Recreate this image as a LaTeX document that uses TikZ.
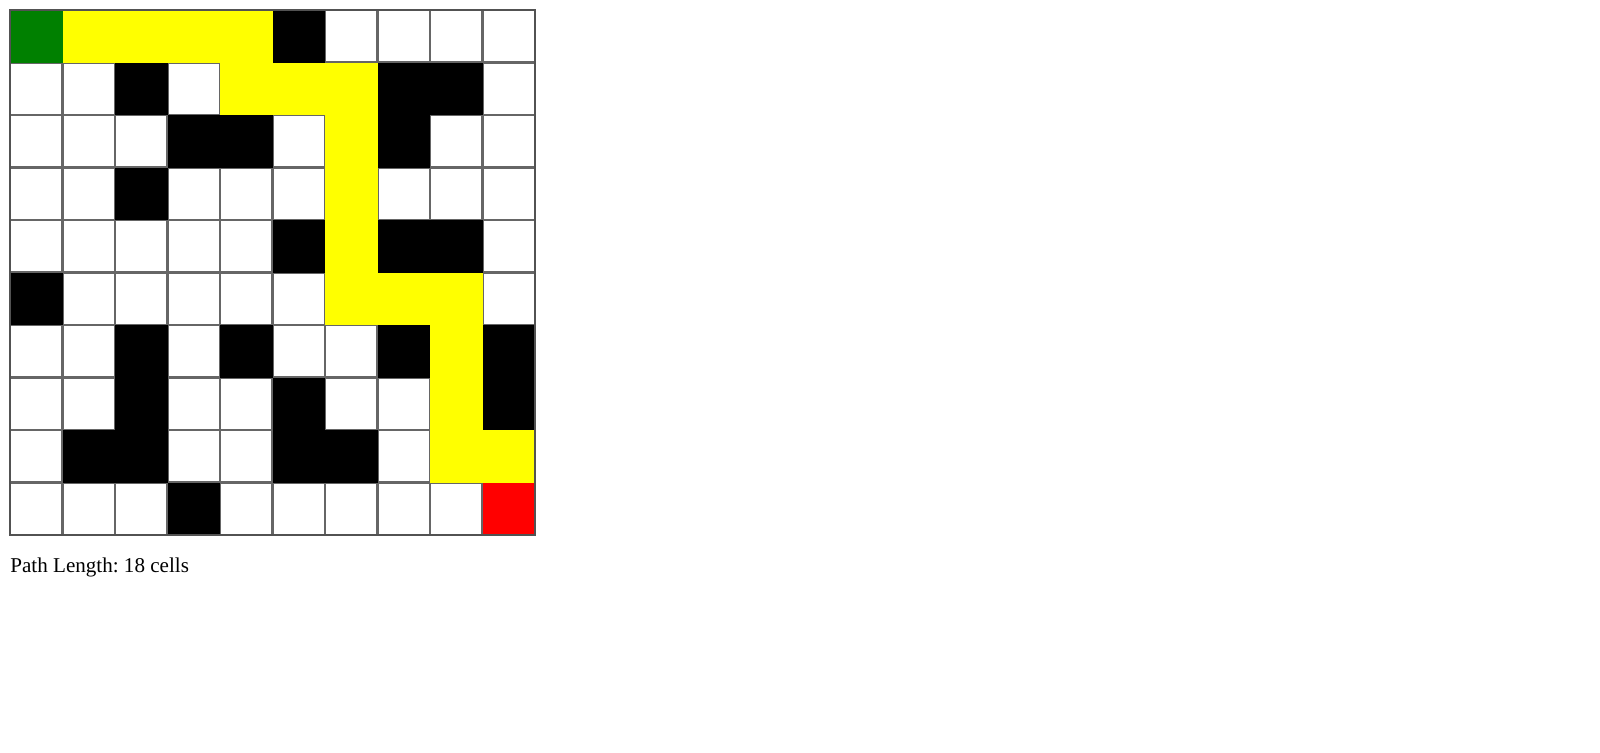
\documentclass[tikz,border=0pt]{standalone}
\usepackage{fontspec}
\setmainfont{Liberation Serif}
\definecolor{pathyellow}{RGB}{255,255,0}
\definecolor{startgreen}{RGB}{0,128,0}
\definecolor{goalred}{RGB}{255,0,0}
\definecolor{linegray}{RGB}{102,102,102}
\begin{document}
\frenchspacing
\begin{tikzpicture}[x=1.05cm, y=-1.05cm, font=\fontsize{12}{14}\selectfont]
    \tikzstyle{gridbox}=[draw=linegray, line width=1.3pt, minimum size=1.05cm, inner sep=0pt, outer sep=0pt]
    \tikzstyle{fillbox}=[minimum size=1.05cm, inner sep=0pt, outer sep=0pt]
    \tikzstyle{wallbox}=[fillbox, fill=black]
    \tikzstyle{pathbox}=[fillbox, fill=pathyellow]

    \useasboundingbox (-0.1905,-0.1905) rectangle (30.286,14.152);

    % empty maze
    \foreach \c in {0,...,9}
      \foreach \r in {0,...,9}
        \node[gridbox] (c-\c-\r) at (\c+0.5,\r+0.5) {};

    % walls
    \foreach \c/\r in {5/0, 2/1, 7/1, 8/1, 3/2, 4/2, 7/2, 2/3, 5/4, 7/4, 8/4, 0/5,
                       2/6, 4/6, 7/6, 9/6, 2/7, 5/7, 9/7, 1/8, 2/8, 5/8, 6/8, 3/9}
      \node[wallbox] at (c-\c-\r) {};

    % shortest path
    \foreach \c/\r in {1/0, 2/0, 3/0, 4/0, 4/1, 5/1, 6/1, 6/2, 6/3, 6/4, 6/5, 7/5,
                       8/5, 8/6, 8/7, 8/8, 9/8}
      \node[pathbox] at (c-\c-\r) {};

    \node[fillbox, fill=startgreen] (start) at (c-0-0) {};
    \node[fillbox, fill=goalred] (goal) at (c-9-9) {};

    \draw[linegray!80!black, line width=0.7pt] (c-0-0.north west) rectangle (c-9-9.south east);

    \node[anchor=base west, inner sep=0pt] (info) at (0,10.705) {Path Length: 18 cells};
  \end{tikzpicture}
\end{document}
